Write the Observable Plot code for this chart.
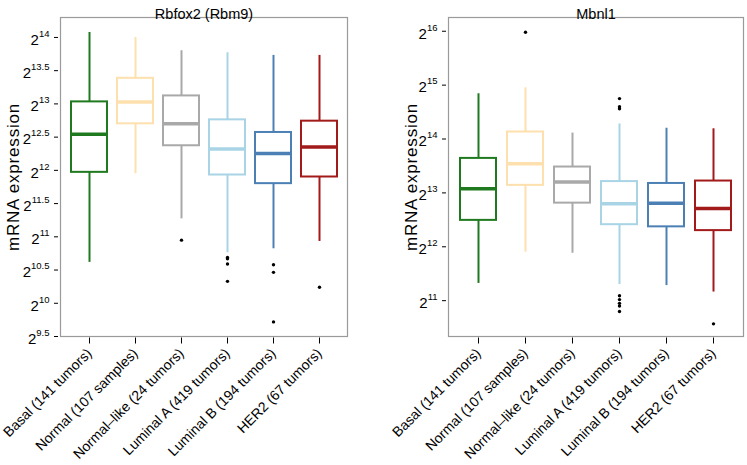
<!DOCTYPE html>
<html><head><meta charset="utf-8">
<script src="https://cdn.jsdelivr.net/npm/d3@7"></script>
<script src="https://cdn.jsdelivr.net/npm/@observablehq/plot@0.6"></script>
<style>
body{margin:0;background:#fff;}
#wrap{display:flex;width:747px;height:465px;}
svg{font-family:"Liberation Sans",Arial,Helvetica,sans-serif;}
g[aria-label="text"].ylab text{letter-spacing:0.8px;}
</style>
</head><body><div id="wrap"></div>
<script>
// Categories and colours
const categories = ["Basal (141 tumors)", "Normal (107 samples)", "Normal–like (24 tumors)", "Luminal A (419 tumors)", "Luminal B (194 tumors)", "HER2 (67 tumors)"];
const colors = ["#1f7a1f", "#fde0ad", "#a9a9a9", "#a9d4e6", "#4c80b5", "#a31a1a"];

// Rbfox2 (Rbm9) — log2 expression
const rbfoxLow    = [10.615, 11.95, 11.27, 10.76, 10.82, 10.93];
const rbfoxQ1     = [11.97, 12.70, 12.37, 11.93, 11.80, 11.90];
const rbfoxMedian = [12.545, 13.03, 12.70, 12.32, 12.255, 12.35];
const rbfoxQ3     = [13.03, 13.385, 13.12, 12.76, 12.57, 12.74];
const rbfoxHigh   = [14.075, 14.0, 13.8, 13.77, 13.73, 13.73];
const rbfoxOutCat = [2, 3, 3, 3, 3, 4, 4, 4, 5];
const rbfoxOutVal = [10.95, 10.69, 10.67, 10.59, 10.33, 10.58, 10.465, 9.72, 10.24];
const rbfoxTicks  = [9.5, 10, 10.5, 11, 11.5, 12, 12.5, 13, 13.5, 14];

// Mbnl1 — log2 expression
const mbnlLow    = [11.32, 11.90, 11.88, 11.30, 11.28, 11.16];
const mbnlQ1     = [12.49, 13.14, 12.81, 12.41, 12.37, 12.30];
const mbnlMedian = [13.075, 13.54, 13.20, 12.80, 12.81, 12.71];
const mbnlQ3     = [13.64, 14.13, 13.48, 13.21, 13.175, 13.22];
const mbnlHigh   = [14.84, 14.95, 14.11, 14.28, 14.20, 14.19];
const mbnlOutCat = [1, 3, 3, 3, 3, 3, 3, 3, 3, 5];
const mbnlOutVal = [15.98, 14.75, 14.60, 14.56, 11.09, 11.02, 10.95, 10.90, 10.80, 10.57];
const mbnlTicks  = [11, 12, 13, 14, 15, 16];

function panel(o) {
  const rows = categories.map((c, i) => ({
    c, color: colors[i], low: o.low[i], q1: o.q1[i], med: o.med[i], q3: o.q3[i], high: o.high[i]
  }));
  const outs = o.outCat.map((k, i) => ({c: categories[k], v: o.outVal[i]}));
  const svg = Plot.plot({
    width: o.width, height: 465,
    marginLeft: o.ml, marginRight: o.mr, marginTop: 17, marginBottom: 129,
    x: {domain: categories, paddingInner: o.pi, paddingOuter: o.po, axis: null},
    y: {domain: o.domain, axis: null},
    color: {type: "identity"},
    style: {fontFamily: "'Liberation Sans', Arial, Helvetica, sans-serif", background: "white", color: "black"},
    marks: [
      Plot.frame({stroke: "#9a9a9a", strokeWidth: 1.2}),
      Plot.ruleX(rows, {x: "c", y1: "low", y2: "q1", stroke: "color", strokeWidth: 2}),
      Plot.ruleX(rows, {x: "c", y1: "q3", y2: "high", stroke: "color", strokeWidth: 2}),
      Plot.barY(rows, {x: "c", y1: "q1", y2: "q3", fill: "white", stroke: "color", strokeWidth: 2}),
      Plot.tickY(rows, {x: "c", y: "med", stroke: "color", strokeWidth: 3.5}),
      Plot.dot(outs, {x: "c", y: "v", r: 1.7, fill: "black", stroke: null}),
      Plot.axisY({ticks: o.ticks, tickSize: 4, dx: -2, tickPadding: 5, fontSize: 15, label: null, tickFormat: d => String(d)}),
      Plot.axisX({tickSize: 6, dy: 1.5, tickRotate: -45, fontSize: 14, label: null, tickPadding: 7}),
      Plot.text([o.title], {frameAnchor: "top", dy: -9, fontSize: 14.5}),
      Plot.text(["mRNA expression"], {frameAnchor: "left", textAnchor: "middle", dx: o.ylabDx, rotate: -90, fontSize: 17, className: "ylab"})
    ]
  });
  // superscript exponents: 2^x
  const ns = "http://www.w3.org/2000/svg";
  svg.querySelectorAll('g[aria-label="y-axis tick label"] text').forEach(t => {
    const e = t.textContent;
    t.textContent = "";
    const a = document.createElementNS(ns, "tspan");
    a.setAttribute("dy", "2.5"); a.textContent = "2";
    const b = document.createElementNS(ns, "tspan");
    b.setAttribute("dy", "-8"); b.setAttribute("font-size", "9.5"); b.textContent = e;
    t.appendChild(a); t.appendChild(b);
  });
  return svg;
}

const wrap = document.getElementById("wrap");
wrap.appendChild(panel({
  title: "Rbfox2 (Rbm9)", low: rbfoxLow, q1: rbfoxQ1, med: rbfoxMedian, q3: rbfoxQ3, high: rbfoxHigh,
  outCat: rbfoxOutCat, outVal: rbfoxOutVal, domain: [9.5, 14.3], ticks: rbfoxTicks,
  width: 374, ml: 60, mr: 27, pi: 0.224, po: 0.2, ylabDx: -47
}));
wrap.appendChild(panel({
  title: "Mbnl1", low: mbnlLow, q1: mbnlQ1, med: mbnlMedian, q3: mbnlQ3, high: mbnlHigh,
  outCat: mbnlOutCat, outVal: mbnlOutVal, domain: [10.335, 16.255], ticks: mbnlTicks,
  width: 373, ml: 74, mr: 4, pi: 0.232, po: 0.2, ylabDx: -37
}));
</script>
</body></html>
